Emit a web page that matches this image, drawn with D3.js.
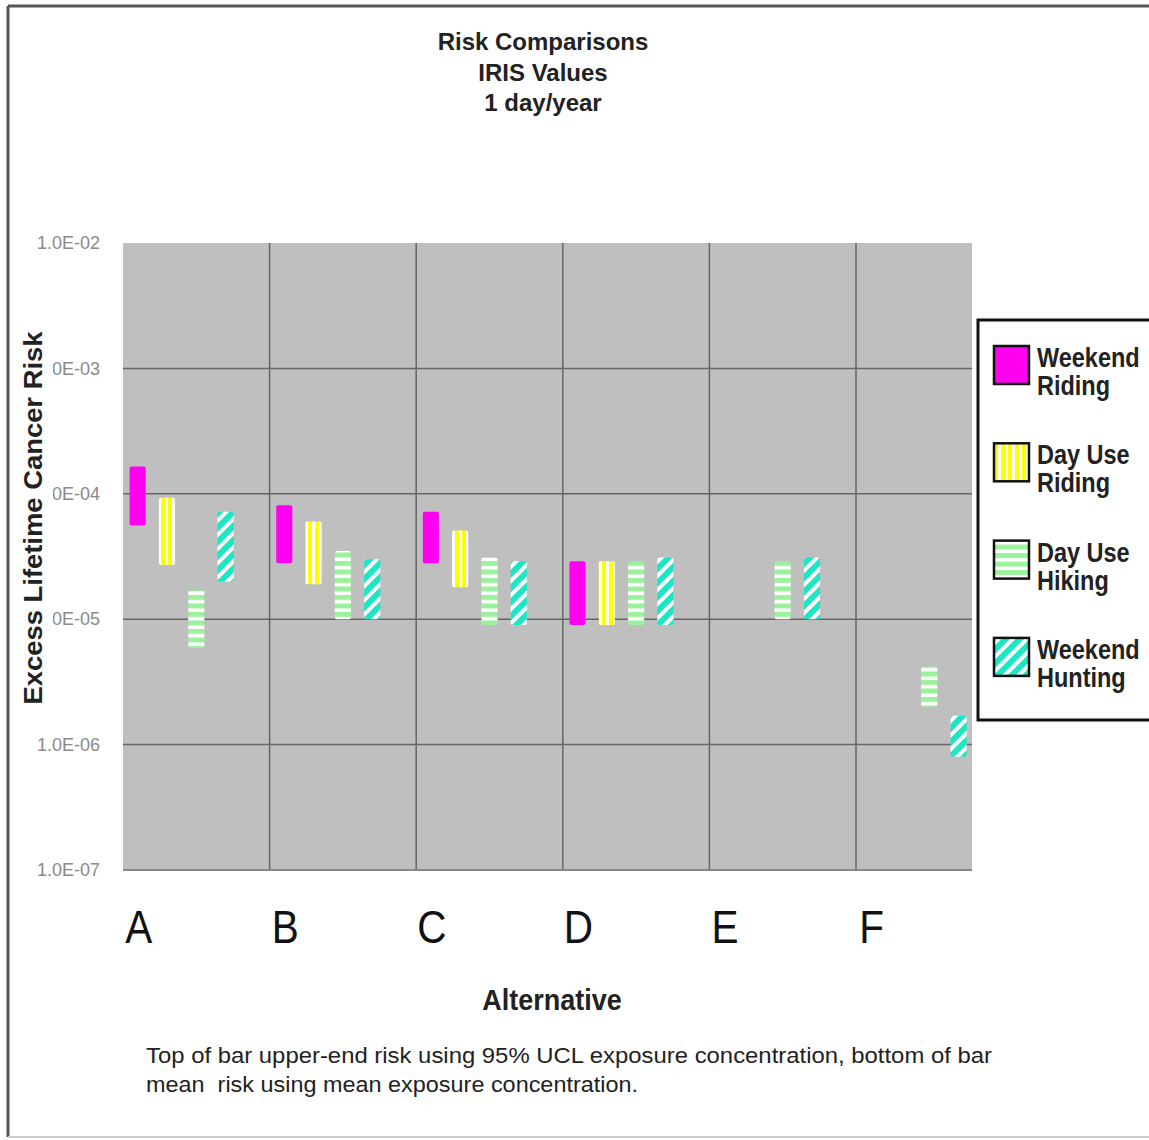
<!DOCTYPE html>
<html>
<head>
<meta charset="utf-8">
<script src="https://cdn.jsdelivr.net/npm/d3@7"></script>
<style>
  body { margin: 0; background: #fff; }
  text { font-family: "Liberation Sans", Arial, sans-serif; }
</style>
</head>
<body>
<div id="chart"></div>
<script>
// data: low = mean risk, high = 95% UCL risk
var categories = ["A", "B", "C", "D", "E", "F"];
var seriesNames = ["Weekend Riding", "Day Use Riding", "Day Use Hiking", "Weekend Hunting"];
var weekendRidingLow  = [5.6e-5, 2.8e-5, 2.8e-5, 9.0e-6, null, null];
var weekendRidingHigh = [1.65e-4, 8.1e-5, 7.2e-5, 2.9e-5, null, null];
var dayUseRidingLow   = [2.7e-5, 1.9e-5, 1.8e-5, 9.0e-6, null, null];
var dayUseRidingHigh  = [9.3e-5, 6.0e-5, 5.1e-5, 2.9e-5, null, null];
var dayUseHikingLow   = [5.9e-6, 1.0e-5, 9.0e-6, 9.0e-6, 1.0e-5, 2.0e-6];
var dayUseHikingHigh  = [1.7e-5, 3.5e-5, 3.1e-5, 2.9e-5, 2.9e-5, 4.2e-6];
var weekendHuntingLow  = [2.0e-5, 1.0e-5, 9.0e-6, 9.0e-6, 1.0e-5, 8.0e-7];
var weekendHuntingHigh = [7.2e-5, 3.0e-5, 2.9e-5, 3.1e-5, 3.1e-5, 1.7e-6];
var tickValues = [1e-7, 1e-6, 1e-5, 1e-4, 1e-3, 1e-2];
var tickLabels = ["1.0E-07", "1.0E-06", "1.0E-05", "1.0E-04", "1.0E-03", "1.0E-02"];
var legendLines = [["Weekend", "Riding"], ["Day Use", "Riding"], ["Day Use", "Hiking"], ["Weekend", "Hunting"]];

var lows = [weekendRidingLow, dayUseRidingLow, dayUseHikingLow, weekendHuntingLow];
var highs = [weekendRidingHigh, dayUseRidingHigh, dayUseHikingHigh, weekendHuntingHigh];

var width = 1149, height = 1140;
var plot = { left: 123, top: 243, right: 972, bottom: 870 };
var bandStep = 146.6;

var svg = d3.select("#chart").append("svg")
  .attr("width", width)
  .attr("height", height);

var defs = svg.append("defs");

// fill patterns like the old spreadsheet ones
var pY = defs.append("pattern").attr("id", "pat1")
  .attr("patternUnits", "userSpaceOnUse").attr("width", 7).attr("height", 7);
pY.append("rect").attr("width", 7).attr("height", 7).attr("fill", "#ffff00");
pY.append("rect").attr("x", 4).attr("width", 3).attr("height", 7).attr("fill", "#ffffff");

var pG = defs.append("pattern").attr("id", "pat2")
  .attr("patternUnits", "userSpaceOnUse").attr("width", 8).attr("height", 8.5);
pG.append("rect").attr("width", 8).attr("height", 8.5).attr("fill", "#ffffff");
pG.append("rect").attr("y", 0).attr("width", 8).attr("height", 5).attr("fill", "#9cf29c");

var pC = defs.append("pattern").attr("id", "pat3")
  .attr("patternUnits", "userSpaceOnUse").attr("width", 10).attr("height", 10)
  .attr("patternTransform", "rotate(45)");
pC.append("rect").attr("width", 10).attr("height", 10).attr("fill", "#1de6c4");
pC.append("rect").attr("width", 4).attr("height", 10).attr("fill", "#ffffff");

var fills = ["#ff00f0", "url(#pat1)", "url(#pat2)", "url(#pat3)"];

defs.append("clipPath").attr("id", "plotClip")
  .append("rect")
  .attr("x", plot.left).attr("y", plot.top)
  .attr("width", plot.right - plot.left).attr("height", plot.bottom - plot.top);

// outer frame
svg.append("line").attr("x1", 8).attr("y1", 6).attr("x2", 8).attr("y2", 1137)
  .attr("stroke", "#555").attr("stroke-width", 3);
svg.append("line").attr("x1", 8).attr("y1", 6).attr("x2", width).attr("y2", 6)
  .attr("stroke", "#555").attr("stroke-width", 3);
svg.append("line").attr("x1", 8).attr("y1", 1137).attr("x2", width).attr("y2", 1137)
  .attr("stroke", "#ccc").attr("stroke-width", 2);

var y = d3.scaleLog()
  .domain([1e-7, 1e-2])
  .range([plot.bottom, plot.top]);

var x0 = d3.scaleBand()
  .domain(categories)
  .range([plot.left, plot.left + bandStep * categories.length]);

var x1 = d3.scaleBand()
  .domain(seriesNames.concat(["gap"]))
  .range([0, x0.bandwidth()])
  .paddingInner(0.45)
  .paddingOuter(0.225);

// plot area
svg.append("rect")
  .attr("x", plot.left).attr("y", plot.top)
  .attr("width", plot.right - plot.left).attr("height", plot.bottom - plot.top)
  .attr("fill", "#bfbfbf");

var grid = svg.append("g").attr("clip-path", "url(#plotClip)");
grid.selectAll("line.h")
  .data(tickValues.filter(function(d) { return d > 1e-7 && d < 1e-2; }))
  .enter().append("line")
  .attr("class", "h")
  .attr("x1", plot.left).attr("x2", plot.right)
  .attr("y1", function(d) { return y(d); }).attr("y2", function(d) { return y(d); })
  .attr("stroke", "#666").attr("stroke-width", 1.5);
grid.selectAll("line.v")
  .data(categories.slice(1))
  .enter().append("line")
  .attr("class", "v")
  .attr("x1", function(d) { return x0(d); }).attr("x2", function(d) { return x0(d); })
  .attr("y1", plot.top).attr("y2", plot.bottom)
  .attr("stroke", "#666").attr("stroke-width", 1.5);
svg.append("line")
  .attr("x1", plot.left).attr("x2", plot.right)
  .attr("y1", plot.bottom).attr("y2", plot.bottom)
  .attr("stroke", "#888").attr("stroke-width", 2);

// floating bars
var barData = [];
seriesNames.forEach(function(s, si) {
  categories.forEach(function(c, ci) {
    if (lows[si][ci] != null) {
      barData.push({ series: s, si: si, cat: c, lo: lows[si][ci], hi: highs[si][ci] });
    }
  });
});

svg.append("g").attr("clip-path", "url(#plotClip)")
  .selectAll("rect")
  .data(barData)
  .enter().append("rect")
  .attr("x", function(d) { return x0(d.cat) + x1(d.series); })
  .attr("width", x1.bandwidth())
  .attr("y", function(d) { return y(d.hi); })
  .attr("height", function(d) { return y(d.lo) - y(d.hi); })
  .attr("rx", 2)
  .attr("fill", function(d) { return fills[d.si]; });

// y axis labels
var yAxis = d3.axisLeft(y)
  .tickValues(tickValues)
  .tickFormat(function(d, i) { return tickLabels[i]; })
  .tickSize(0)
  .tickPadding(23);
var ya = svg.append("g")
  .attr("transform", "translate(" + plot.left + ",0)")
  .call(yAxis);
ya.select(".domain").remove();
ya.selectAll("text")
  .attr("font-family", "Liberation Sans, Arial, sans-serif")
  .attr("font-size", 18)
  .attr("fill", "#8a8a8a");

// y title sits over the start of some tick labels
svg.append("rect").attr("x", 16).attr("y", 328).attr("width", 37).attr("height", 380)
  .attr("fill", "#fff");
svg.append("text")
  .attr("transform", "translate(42,518) rotate(-90)")
  .attr("text-anchor", "middle")
  .attr("font-size", 25)
  .attr("font-weight", "bold")
  .attr("textLength", 373)
  .attr("lengthAdjust", "spacingAndGlyphs")
  .attr("fill", "#222")
  .text("Excess Lifetime Cancer Risk");

// category labels
svg.append("g").selectAll("text")
  .data(categories)
  .enter().append("text")
  .attr("transform", function(d) {
    return "translate(" + (x0(d) + x1(seriesNames[0]) + x1.bandwidth() / 2 + 1) + ",943) scale(0.88,1)";
  })
  .attr("text-anchor", "middle")
  .attr("font-size", 46)
  .attr("fill", "#111")
  .text(function(d) { return d; });

svg.append("text")
  .attr("transform", "translate(552,1010) scale(0.9,1)")
  .attr("text-anchor", "middle")
  .attr("font-size", 30)
  .attr("font-weight", "bold")
  .attr("fill", "#222")
  .text("Alternative");

// title
var titleLines = ["Risk Comparisons", "IRIS Values", "1 day/year"];
svg.append("g").selectAll("text")
  .data(titleLines)
  .enter().append("text")
  .attr("x", 543)
  .attr("y", function(d, i) { return 50 + i * 30.5; })
  .attr("text-anchor", "middle")
  .attr("font-size", 24)
  .attr("font-weight", "bold")
  .attr("fill", "#222")
  .text(function(d) { return d; });

// footnote
svg.append("text")
  .attr("x", 146).attr("y", 1063)
  .attr("font-size", 22)
  .attr("textLength", 846)
  .attr("lengthAdjust", "spacingAndGlyphs")
  .attr("fill", "#222")
  .text("Top of bar upper-end risk using 95% UCL exposure concentration, bottom of bar");
svg.append("text")
  .attr("x", 146).attr("y", 1092)
  .attr("font-size", 22)
  .attr("textLength", 492)
  .attr("lengthAdjust", "spacingAndGlyphs")
  .attr("fill", "#222")
  .style("white-space", "pre")
  .text("mean  risk using mean exposure concentration.");

// legend
svg.append("rect")
  .attr("x", 978).attr("y", 320).attr("width", 200).attr("height", 400)
  .attr("fill", "#fff").attr("stroke", "#111").attr("stroke-width", 3);

var leg = svg.append("g").selectAll("g")
  .data(seriesNames)
  .enter().append("g")
  .attr("transform", function(d, i) { return "translate(0," + (367 + i * 97.3) + ")"; });
leg.append("rect")
  .attr("x", 994).attr("y", -21).attr("width", 35).attr("height", 38)
  .attr("fill", function(d, i) { return fills[i]; })
  .attr("stroke", "#111").attr("stroke-width", 2.5);
leg.append("text")
  .attr("transform", "translate(1037,0) scale(0.87,1)")
  .attr("font-size", 27)
  .attr("font-weight", "bold")
  .attr("fill", "#222")
  .text(function(d, i) { return legendLines[i][0]; });
leg.append("text")
  .attr("transform", "translate(1037,28) scale(0.87,1)")
  .attr("font-size", 27)
  .attr("font-weight", "bold")
  .attr("fill", "#222")
  .text(function(d, i) { return legendLines[i][1]; });
</script>
</body>
</html>
